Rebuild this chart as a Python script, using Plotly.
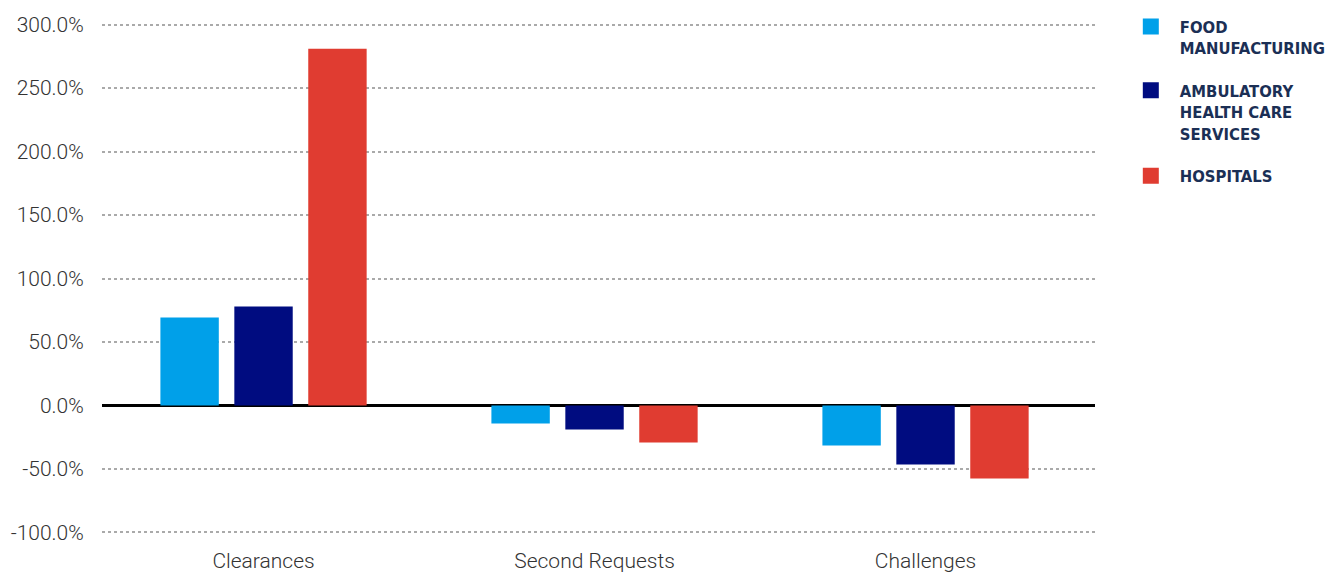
"""Cambio porcentual por tipo de accion y sector."""

import plotly.graph_objects as go

categorias = ["Clearances", "Second Requests", "Challenges"]

food_manufacturing = [69.3, -14.2, -31.5]
ambulatory_health = [78.0, -18.9, -46.5]
hospitals = [281.0, -29.1, -57.5]

series = [
    ("FOOD<br>MANUFACTURING", food_manufacturing, "#00a0e9"),
    ("AMBULATORY<br>HEALTH CARE<br>SERVICES", ambulatory_health, "#000c80"),
    ("HOSPITALS", hospitals, "#e03c31"),
]

y_ticks = [-100, -50, 0, 50, 100, 150, 200, 250, 300]
y_labels = [f"{v:.1f}%" for v in y_ticks]

fig = go.Figure()

for i, (nombre, valores, color) in enumerate(series):
    fig.add_trace(go.Bar(
        x=categorias, y=valores, name=nombre,
        marker=dict(color=color, line=dict(width=0)),
        showlegend=False, legendgroup=f"g{i}",
        hovertemplate="%{x}: %{y:.1f}%<extra></extra>",
    ))
    # Entrada de leyenda con cuadrado grande
    fig.add_trace(go.Scatter(
        x=[None], y=[None], mode="markers", name=nombre,
        marker=dict(symbol="square", size=17, color=color),
        legendgroup=f"g{i}", hoverinfo="skip",
    ))

# La pagina tiene 8px de margen en el body: se descuenta aqui
fig.update_layout(
    barmode="group",
    bargap=0.33,
    bargroupgap=0.21,
    width=1331,
    height=564,
    margin=dict(l=94, r=244, t=14, b=37, autoexpand=False),
    plot_bgcolor="white",
    paper_bgcolor="white",
    font=dict(family="Roboto", size=21, color="#333333", weight=300),
    legend=dict(
        x=1.027, y=1.025, xanchor="left", yanchor="top",
        font=dict(family="DejaVu Sans Condensed, Roboto",
                  size=16.5, color="#1b2f55", weight=700),
        tracegroupgap=18,
        itemwidth=48,
        valign="top",
        bgcolor="rgba(0,0,0,0)",
    ),
    xaxis=dict(
        range=[-0.488, 2.512],
        showgrid=False, zeroline=False, showline=False,
        ticks="outside", ticklen=7, tickcolor="rgba(0,0,0,0)",
        tickfont=dict(size=21, color="#333333"),
        automargin=False,
    ),
    yaxis=dict(
        range=[-102, 302],
        tickvals=y_ticks, ticktext=y_labels,
        showgrid=True, gridcolor="#aaaaaa", gridwidth=1.5, griddash="dot",
        zeroline=True, zerolinecolor="#000000", zerolinewidth=2.5,
        ticks="outside", ticklen=13, tickcolor="rgba(0,0,0,0)",
        tickfont=dict(size=21, color="#333333"),
        automargin=False,
    ),
)

fig.write_html("out.html")
